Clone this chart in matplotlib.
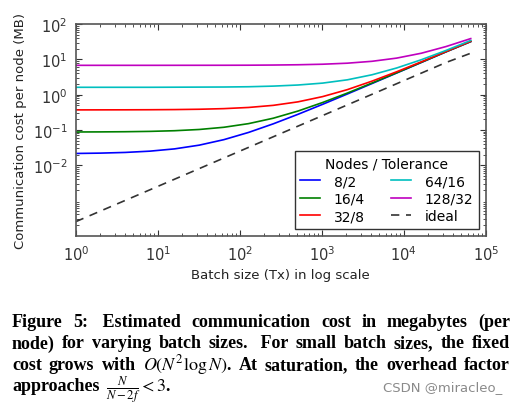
import numpy as np
import matplotlib
matplotlib.use('Agg')
import matplotlib.pyplot as plt

# batch sizes (Tx), powers of two up to 65536
batch = [1, 2, 4, 8, 16, 32, 64, 128, 256, 512, 1024, 2048, 4096, 8192, 16384, 32768, 65536]

# cost per node in MB
cost_8_2 = [0.0215, 0.022, 0.023, 0.025, 0.029, 0.037, 0.053, 0.085, 0.149, 0.277, 0.533, 1.045, 2.07, 4.12, 8.21, 16.4, 32.0]
cost_16_4 = [0.0875, 0.088, 0.089, 0.091, 0.095, 0.103, 0.119, 0.151, 0.215, 0.343, 0.60, 1.11, 2.14, 4.18, 8.28, 16.5, 32.2]
cost_32_8 = [0.37, 0.371, 0.372, 0.374, 0.378, 0.386, 0.402, 0.434, 0.498, 0.626, 0.882, 1.39, 2.42, 4.47, 8.56, 16.75, 32.6]
cost_64_16 = [1.62, 1.62, 1.62, 1.62, 1.63, 1.64, 1.65, 1.68, 1.75, 1.88, 2.13, 2.64, 3.67, 5.72, 9.81, 18.0, 34.6]
cost_128_32 = [6.8, 6.8, 6.8, 6.8, 6.81, 6.82, 6.83, 6.86, 6.93, 7.06, 7.31, 7.82, 8.85, 10.9, 15.0, 23.2, 39.0]
cost_ideal = [0.00025, 0.0005, 0.001, 0.002, 0.004, 0.008, 0.016, 0.032, 0.064, 0.128, 0.256, 0.512, 1.024, 2.048, 4.096, 8.192, 15.0]

labels = ['8/2', '16/4', '32/8', '64/16', '128/32', 'ideal']
yticks = [1e-2, 1e-1, 1e0, 1e1, 1e2]

plt.rcParams['mathtext.fontset'] = 'stix'

fig = plt.figure(figsize=(5.19, 4.06), dpi=100)
ax = fig.add_axes([0.146, 0.417, 0.790, 0.521])

ax.plot(batch, cost_8_2, color='b', lw=1.2, label=labels[0])
ax.plot(batch, cost_16_4, color='g', lw=1.2, label=labels[1])
ax.plot(batch, cost_32_8, color='r', lw=1.2, label=labels[2])
ax.plot(batch, cost_64_16, color='c', lw=1.2, label=labels[3])
ax.plot(batch, cost_128_32, color='m', lw=1.2, label=labels[4])
ax.plot(batch, cost_ideal, 'k--', lw=1.2, dashes=(5, 4), label=labels[5], alpha=0.8)

ax.set_xscale('log')
ax.set_yscale('log')
ax.set_xlim(1, 1e5)
ax.set_ylim(1e-4, 1e2)
ax.set_yticks(yticks)
ax.set_xlabel('Batch size (Tx) in log scale', fontsize=9.5, color='#222222')
ax.set_ylabel('Communication cost per node (MB)', fontsize=9.5, color='#222222')
ax.tick_params(which='both', direction='in', top=True, right=True, labelsize=10.5, colors='#333333')
ax.tick_params(which='major', length=4, pad=6)
ax.tick_params(which='minor', length=2)
for s in ax.spines.values():
    s.set_color('#555555')
    s.set_linewidth(1.2)

leg = ax.legend(title='Nodes / Tolerance', ncol=2, loc='lower right', fontsize=10,
                title_fontsize=10, fancybox=False, framealpha=1, edgecolor='#333333',
                borderaxespad=0.5, borderpad=0.4, handlelength=1.4, handletextpad=1.0,
                columnspacing=1.9, labelspacing=0.25)
leg.get_frame().set_linewidth(1.0)

# caption, justified like the paper
caption = [
    ['Figure', '5:', ' Estimated', 'communication', 'cost', 'in', 'megabytes', '(per'],
    ['node)', 'for', 'varying', 'batch', 'sizes.', ' For', 'small', 'batch', 'sizes,', 'the', 'fixed'],
    ['cost', 'grows', 'with', r'$O(N^2\log N)$.', 'At', 'saturation,', 'the', 'overhead', 'factor'],
    ['approaches', r'$\frac{N}{N-2f} < 3$.'],
]
baselines = [327, 348.5, 370, 391.5]
left_px, right_px = 12, 510
W, H = 519, 406

renderer = fig.canvas.get_renderer()
for i, words in enumerate(caption):
    texts = []
    for w in words:
        t = fig.text(0, 1 - baselines[i] / H, w, fontsize=13, fontweight='bold',
                     family='Liberation Serif', va='baseline', ha='left')
        texts.append(t)
    widths = [t.get_window_extent(renderer).width for t in texts]
    if i < 3:
        gap = (right_px - left_px - sum(widths)) / (len(words) - 1)
    else:
        gap = 6
    x = left_px
    for t, wd in zip(texts, widths):
        t.set_x(x / W)
        x += wd + gap

fig.text(502 / W, 1 - 391 / H, 'CSDN @miracleo_', fontsize=9.5, color='#8a8a8a',
         ha='right', va='baseline', family='DejaVu Sans')

fig.savefig('out.png', dpi=100)
